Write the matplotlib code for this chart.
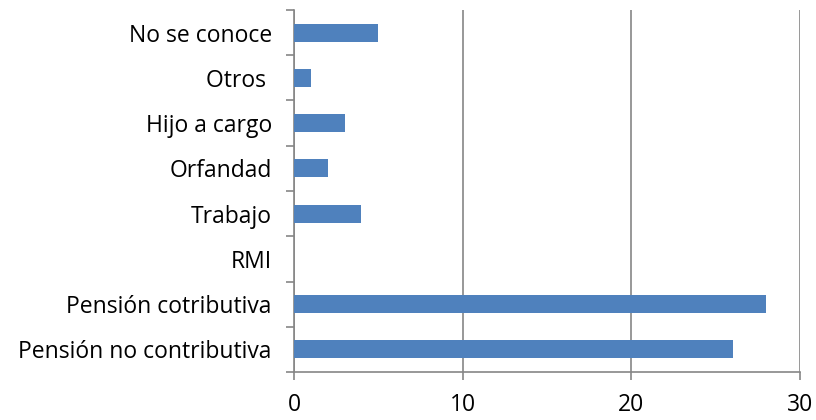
import matplotlib.pyplot as plt
import numpy as np

categorias = ["Pensión no contributiva", "Pensión cotributiva", "RMI", "Trabajo",
              "Orfandad", "Hijo a cargo", "Otros ", "No se conoce"]
valores = [26, 28, 0, 4, 2, 3, 1, 5]
ticks_x = [0, 10, 20, 30]

plt.rcParams['font.family'] = ['Open Sans', 'DejaVu Sans']

fig = plt.figure(figsize=(8.16, 4.2), dpi=100)
ax = fig.add_axes([294 / 816, 48 / 420, 506 / 816, 362 / 420])

pos = np.arange(len(categorias))
ax.barh(pos, valores, height=0.4, color="#4f81bd", zorder=3)

ax.set_xlim(0, 30)
ax.set_ylim(-0.5, len(categorias) - 0.5)
ax.set_xticks(ticks_x)
ax.set_xticklabels([str(t) for t in ticks_x], fontsize=16.5)
ax.set_yticks(pos)
ax.set_yticklabels(categorias, fontsize=16.5)
ax.tick_params(axis="y", length=0, pad=16)
ax.set_yticks(np.arange(len(categorias) + 1) - 0.5, minor=True)
ax.tick_params(axis="y", which="minor", length=6, color="#868686", width=1.2)
ax.tick_params(axis="x", length=6, color="#868686", width=1.2, pad=9)

ax.grid(axis="x", color="#868686", linewidth=1.2, zorder=0)
for s in ["top", "right"]:
    ax.spines[s].set_visible(False)
for s in ["left", "bottom"]:
    ax.spines[s].set_color("#868686")
    ax.spines[s].set_linewidth(1.2)

fig.savefig("out.png", dpi=100)
